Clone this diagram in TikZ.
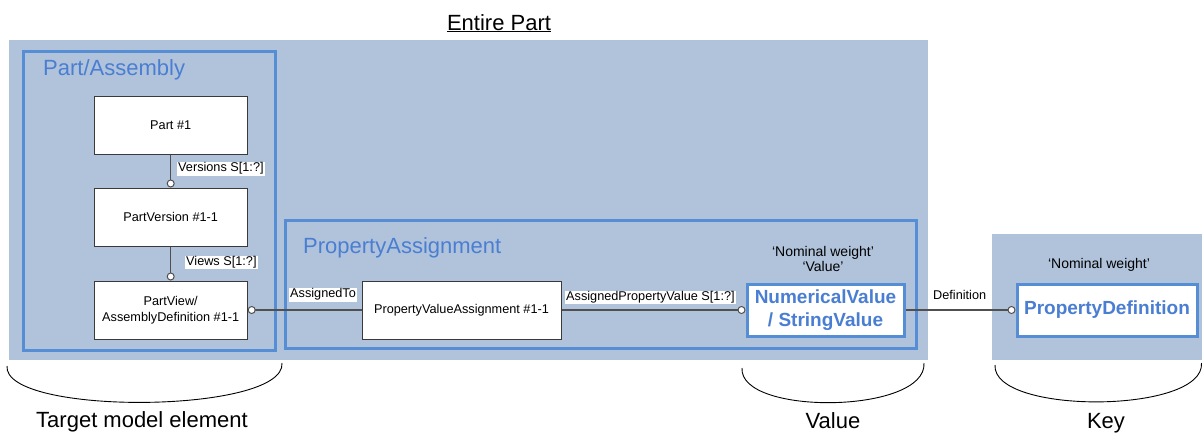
\documentclass[tikz,border=0pt]{standalone}
\usepackage{fontspec}
\setmainfont{Liberation Sans}
\usepackage{tikz}
\usetikzlibrary{arrows.meta,positioning}
\usepackage{xcolor}
\definecolor{groupbg}{HTML}{B0C3DB}
\definecolor{frameblue}{HTML}{558ED5}
\definecolor{nameblue}{HTML}{4A7ED2}
\definecolor{boxline}{HTML}{3A3A3A}
\definecolor{linkgray}{HTML}{505050}
\tikzset{groupfill/.style={fill=groupbg,draw=none}, groupframe/.style={draw=frameblue,line width=3pt}, groupname/.style={font=\fontsize{22}{26}\selectfont,text=nameblue,anchor=base west,inner sep=0pt}, partbox/.style={draw=boxline,fill=white,line width=1pt,minimum width=153pt,minimum height=58pt,inner sep=0pt,align=center,font=\fontsize{12.7}{16}\selectfont}, valuebox/.style={draw=frameblue,fill=white,line width=3pt,minimum height=52pt,inner sep=0pt,align=center,text=nameblue,font=\bfseries\fontsize{19}{22.7}\selectfont}, conn/.style={draw=linkgray,line width=1.2pt,-{Circle[open,fill=white,length=8pt,line width=1pt]}}, linklabel/.style={fill=white,inner sep=1pt,font=\fontsize{12.7}{14}\selectfont}, quotenote/.style={align=center,inner sep=0pt,font=\fontsize{14}{15}\selectfont}, bracearc/.style={draw=black,line width=.9pt}, capnote/.style={font=\fontsize{22}{26}\selectfont,anchor=base,inner sep=0pt}}
\begin{document}
\begin{tikzpicture}[x=1pt,y=-1pt]
\useasboundingbox (0,0) rectangle (1202,434);
% shaded groups
\fill[groupfill] (9,40) rectangle (928,360);
\fill[groupfill] (992,234) rectangle (1202,360);
\node[capnote] (entire) at (499,30) {\underline{Entire Part}};
\draw[groupframe] (23.5,51) rectangle (275,350.5);
\draw[groupframe] (285.5,220.5) rectangle (916,348.5);
\node[groupname] (pagrp) at (43,75) {Part/Assembly};
\node[groupname] (pasgrp) at (303,253) {PropertyAssignment};
% part chain
\node[partbox] (part) at (170.7,125) {Part \#1};
\node[partbox] (partver) at (170.7,217) {PartVersion \#1-1};
\node[partbox] (partview) at (170.7,310) {PartView/\\AssemblyDefinition \#1-1};
\node[partbox,minimum width=199pt] (pva) at (461.5,310) {PropertyValueAssignment \#1-1};
\node[valuebox,minimum width=157pt] (numval) at (825.5,310) {NumericalValue\\/ StringValue};
\node[valuebox,minimum width=180pt] (propdef) at (1107,310) {PropertyDefinition};
\node[quotenote] (valnote) at (823,259) {`Nominal weight'\\`Value'};
\node[quotenote] (keynote) at (1099,264.5) {`Nominal weight'};
% links
\draw[conn] (part) -- (partver);
\draw[conn] (partver) -- (partview);
\draw[conn] (pva) -- (partview);
\draw[conn] (pva) -- (numval);
\draw[conn] (numval) -- (propdef);
\node[linklabel,anchor=west] (verlbl) at (177,168.7) {Versions S[1:?]};
\node[linklabel,anchor=west] (viewlbl) at (185,262.5) {Views S[1:?]};
\node[linklabel,anchor=west] (asglbl) at (289,294.7) {AssignedTo};
\node[linklabel,anchor=west] (apvlbl) at (565,297.5) {AssignedPropertyValue S[1:?]};
\node[linklabel,fill=none,anchor=west] (deflbl) at (932,294.5) {Definition};
% braces underneath
\draw[bracearc] (7,366) .. controls (3,416) and (286,414) .. (282,363);
\draw[bracearc] (742,368) .. controls (739,416) and (927,414) .. (924,363);
\draw[bracearc] (995,365) .. controls (992,415) and (1205,414) .. (1201.5,363);
\node[capnote] (tgtcap) at (142,427.5) {Target model element};
\node[capnote] (valcap) at (833,428) {Value};
\node[capnote] (keycap) at (1106,428) {Key};
\end{tikzpicture}
\end{document}
